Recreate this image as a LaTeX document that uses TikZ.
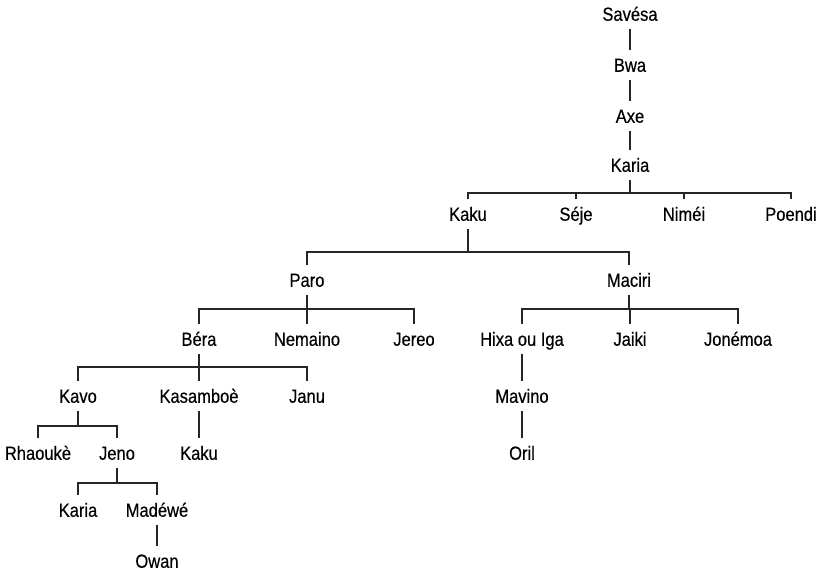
\documentclass[tikz,border=0pt]{standalone}
\usepackage{fontspec}
\setmainfont{Liberation Sans}[FakeStretch=0.87,FakeBold=0.4]
\usepackage{tikz}

\begin{document}
\begin{tikzpicture}[
    x=1pt, y=-1pt,
    person/.style={font=\fontsize{19}{21}\selectfont, inner xsep=1pt, inner ysep=0pt, text height=13.5pt, text depth=0pt, outer ysep=8pt},
    link/.style={line width=1.3pt, draw=black!85}
]
\useasboundingbox (0,0) rectangle (820,571);

% top line
\node[person] (savesa) at (630,14) {Savésa};
\node[person] (bwa) at (630,65) {Bwa};
\node[person] (axe) at (630,116) {Axe};
\node[person] (karia) at (630,165) {Karia};
\node[person] (kaku) at (468,214) {Kaku};
\node[person] (seje) at (576,214) {Séje};
\node[person] (nimei) at (684,214) {Niméi};
\node[person] (poendi) at (791,214) {Poendi};
\node[person] (paro) at (307,280) {Paro};
\node[person] (maciri) at (629,280) {Maciri};
\node[person] (bera) at (199,339) {Béra};
\node[person] (nemaino) at (307,339) {Nemaino};
\node[person] (jereo) at (414,339) {Jereo};
\node[person] (hixa) at (522,339) {Hixa ou Iga};
\node[person] (jaiki) at (630,339) {Jaiki};
\node[person] (jonemoa) at (738,339) {Jonémoa};
\node[person] (kavo) at (78,396) {Kavo};
\node[person] (kasamboe) at (199,396) {Kasamboè};
\node[person] (janu) at (307,396) {Janu};
\node[person] (mavino) at (522,396) {Mavino};
\node[person] (rhaouke) at (38,453) {Rhaoukè};
\node[person] (jeno) at (117,453) {Jeno};
\node[person] (kaku2) at (199,453) {Kaku};
\node[person] (oril) at (522,453) {Oril};
\node[person] (karia2) at (78,510) {Karia};
\node[person] (madewe) at (157,510) {Madéwé};
\node[person] (owan) at (157,561) {Owan};

% single descent
\draw[link] (savesa) -- (bwa);
\draw[link] (bwa) -- (axe);
\draw[link] (axe) -- (karia);
\draw[link] (hixa) -- (mavino);
\draw[link] (mavino) -- (oril);
\draw[link] (kasamboe) -- (kaku2);
\draw[link] (madewe) -- (owan);

% sibling bars
\coordinate (b-karia) at (630,193);
\draw[link] (karia) -- (b-karia);
\draw[link] (kaku.north) |- (b-karia) -| (poendi.north);
\draw[link] (seje.north) |- (b-karia);
\draw[link] (nimei.north) |- (b-karia);

\coordinate (b-kaku) at (468,252);
\draw[link] (kaku) -- (b-kaku);
\draw[link] (paro.north) |- (b-kaku) -| (maciri.north);

\coordinate (b-paro) at (307,309);
\draw[link] (paro) -- (b-paro);
\draw[link] (bera.north) |- (b-paro) -| (jereo.north);
\draw[link] (nemaino.north) |- (b-paro);

\coordinate (b-maciri) at (629,309);
\draw[link] (maciri) -- (b-maciri);
\draw[link] (hixa.north) |- (b-maciri) -| (jonemoa.north);
\draw[link] (jaiki.north) |- (b-maciri);

\coordinate (b-bera) at (199,367);
\draw[link] (bera) -- (b-bera);
\draw[link] (kavo.north) |- (b-bera) -| (janu.north);
\draw[link] (kasamboe.north) |- (b-bera);

\coordinate (b-kavo) at (78,426);
\draw[link] (kavo) -- (b-kavo);
\draw[link] (rhaouke.north) |- (b-kavo) -| (jeno.north);

\coordinate (b-jeno) at (117,483);
\draw[link] (jeno) -- (b-jeno);
\draw[link] (karia2.north) |- (b-jeno) -| (madewe.north);
\end{tikzpicture}
\end{document}
